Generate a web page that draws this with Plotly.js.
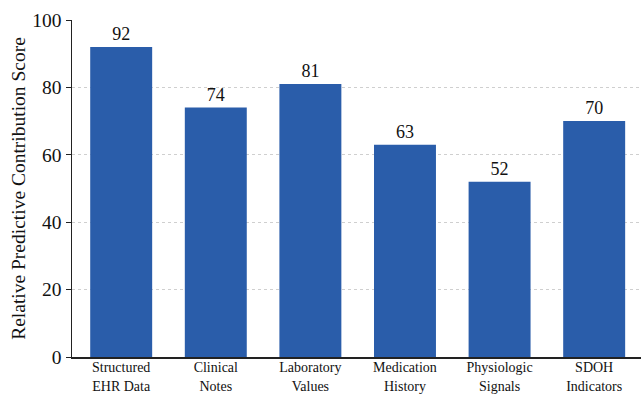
<!DOCTYPE html>
<html><head><meta charset="utf-8">
<script src="https://cdn.plot.ly/plotly-3.0.1.min.js"></script>
<style>html,body{margin:0;padding:0;background:#fff;}#chart{width:641px;height:395px;}</style>
</head><body><div id="chart"></div>
<script>
const categories = ["Structured<br>EHR Data","Clinical<br>Notes","Laboratory<br>Values","Medication<br>History","Physiologic<br>Signals","SDOH<br>Indicators"];
const scores = [92, 74, 81, 63, 52, 70];
const yTicks = [0, 20, 40, 60, 80, 100];

const font = "Liberation Serif, Times New Roman, serif";
Plotly.newPlot("chart", [{
  type: "bar",
  x: categories,
  y: scores,
  marker: {color: "#2a5daa"},
  width: 0.655,
  text: scores.map(String),
  textposition: "outside",
  textfont: {family: font, size: 18, color: "#111"},
  cliponaxis: false,
  hoverinfo: "none"
}], {
  width: 641, height: 395,
  margin: {l: 72, r: 0, t: 20, b: 38},
  paper_bgcolor: "#fff", plot_bgcolor: "#fff",
  font: {family: font, color: "#111"},
  showlegend: false,
  xaxis: {
    range: [-0.52, 5.495],
    showline: true, linecolor: "#222", linewidth: 1.5,
    ticks: "", tickfont: {size: 14, family: font, color: "#111"},
    ticklabelstandoff: -3,
    showgrid: false, zeroline: false
  },
  yaxis: {
    range: [0, 100],
    tickvals: yTicks,
    showline: true, linecolor: "#222", linewidth: 1.5,
    ticks: "outside", ticklen: 5, tickcolor: "#222",
    tickfont: {size: 19.5, family: font, color: "#111"},
    showgrid: true, gridcolor: "#cfcfcf", griddash: "dot", gridwidth: 1,
    zeroline: false,
    title: {text: "Relative Predictive Contribution Score", font: {size: 19.5, family: font, color: "#111"}, standoff: 1}
  }
}, {staticPlot: true});
</script></body></html>
